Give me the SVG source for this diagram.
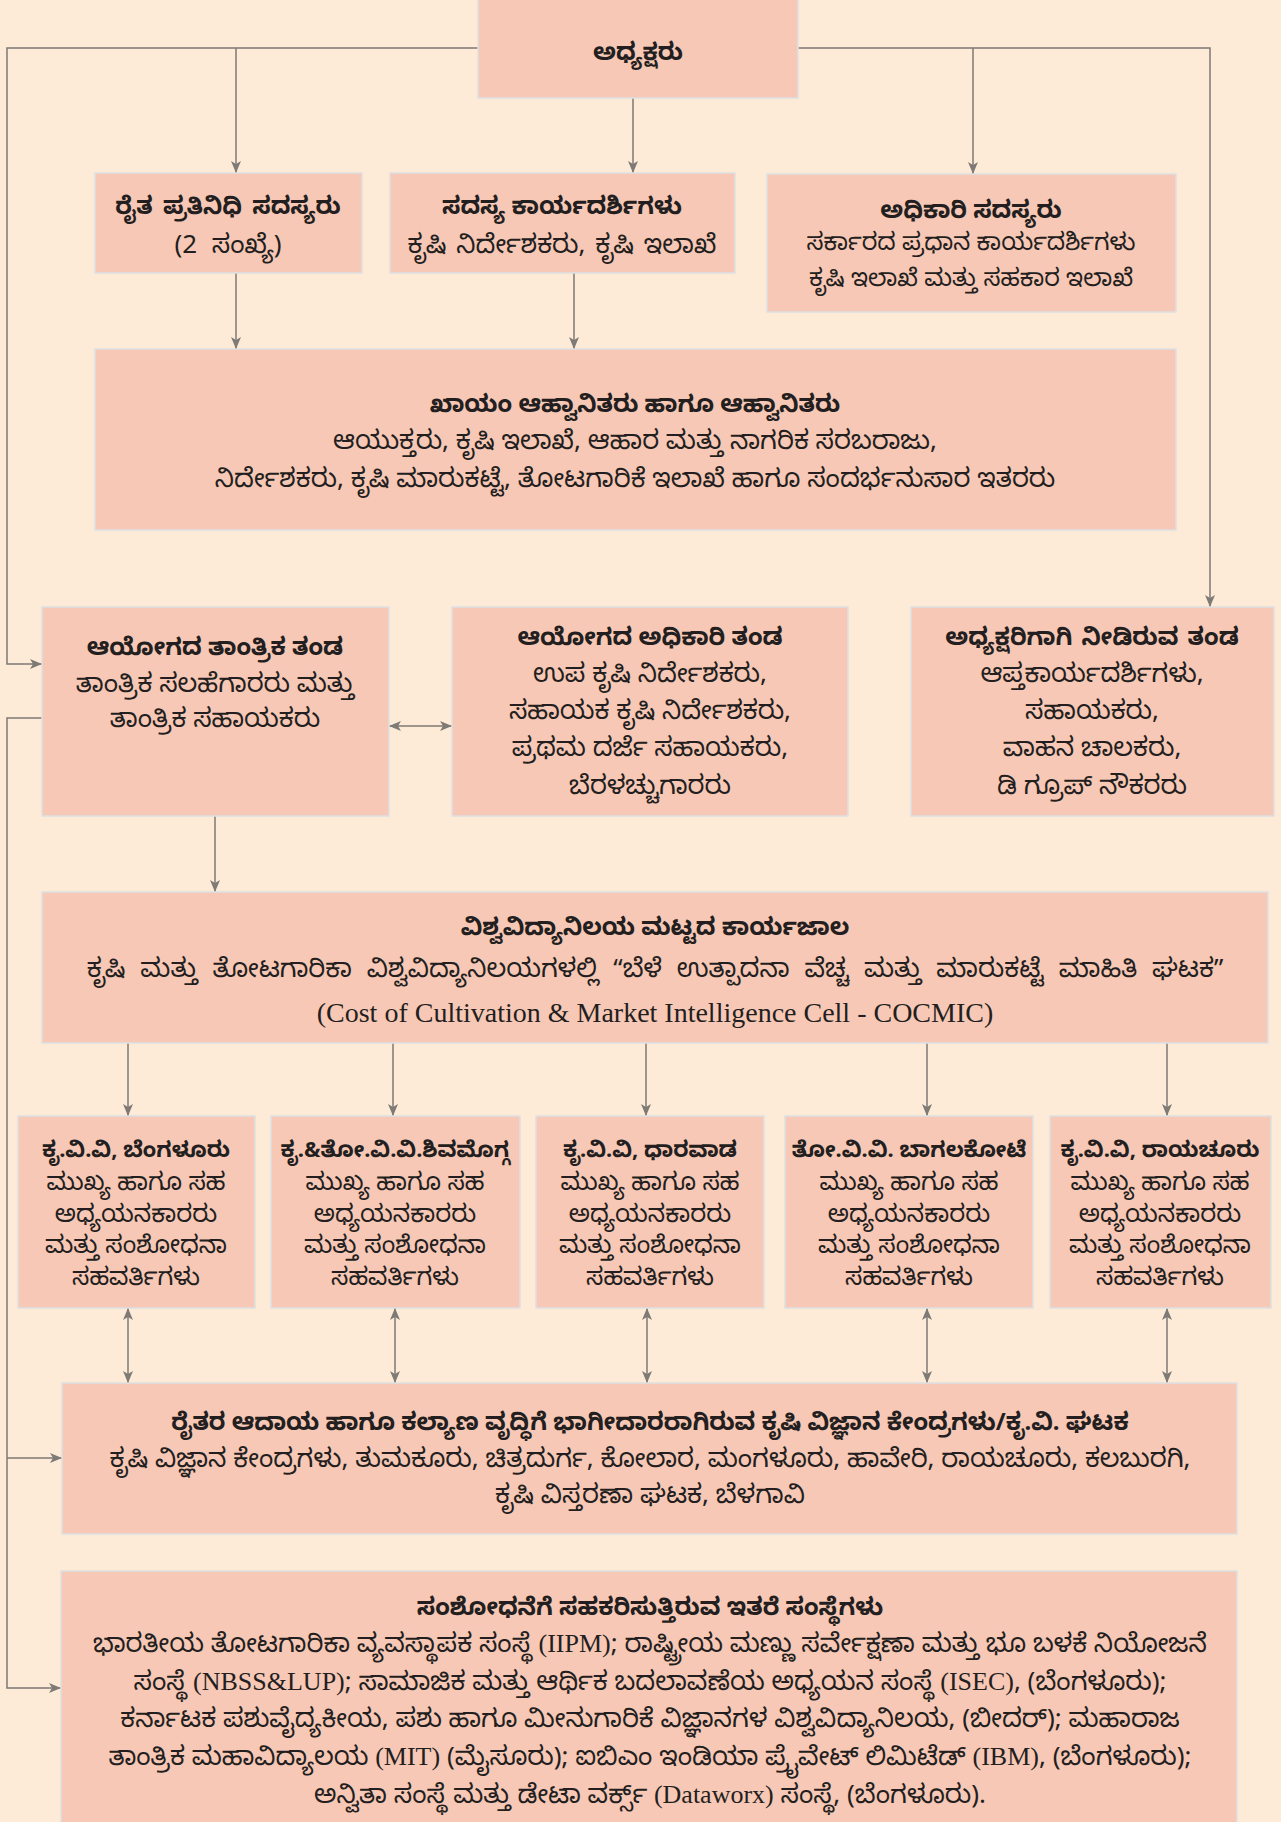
<svg xmlns="http://www.w3.org/2000/svg" width="1281" height="1822" viewBox="0 0 1281 1822">
<defs>
<style>
.bg{fill:#FDEBD7}
.box{fill:#F8C8B6;stroke:#DDE1E4;stroke-width:1.5}
.ln{fill:none;stroke:#7E7A75;stroke-width:1.5}
text{font-family:"Noto Sans","Noto Sans Kannada","Lohit Kannada",sans-serif;fill:#231F20;text-anchor:middle;font-size:26px}
.t{font-weight:bold;font-size:24px}
.m{font-size:24px}
.s{font-size:24.5px}
.st{font-weight:bold;font-size:22px}
.e{font-family:"Liberation Serif",serif;font-size:28px}
.ei{font-family:"Liberation Serif",serif}
</style>
<marker id="ah" viewBox="0 0 12 10" refX="12" refY="5" markerWidth="12" markerHeight="10" markerUnits="userSpaceOnUse" orient="auto-start-reverse">
<path d="M0,0 L12,5 L0,10 L3,5 z" fill="#7E7A75"/>
</marker>
</defs>
<rect class="bg" x="0" y="0" width="1281" height="1822"/>

<g id="connectors">
<path class="ln" d="M478,48 H7 V664 H42" marker-end="url(#ah)"/>
<path class="ln" d="M236,48 V173" marker-end="url(#ah)"/>
<path class="ln" d="M633,98 V173" marker-end="url(#ah)"/>
<path class="ln" d="M798,48 H1210 V607" marker-end="url(#ah)"/>
<path class="ln" d="M973,48 V174" marker-end="url(#ah)"/>
<path class="ln" d="M236,273 V349" marker-end="url(#ah)"/>
<path class="ln" d="M574,273 V349" marker-end="url(#ah)"/>
<path class="ln" d="M389,726 H452" marker-start="url(#ah)" marker-end="url(#ah)"/>
<path class="ln" d="M215,816 V892" marker-end="url(#ah)"/>
<path class="ln" d="M42,718 H7 V1688 H61" marker-end="url(#ah)"/>
<path class="ln" d="M7,1458 H62" marker-end="url(#ah)"/>
<path class="ln" d="M128,1043 V1116" marker-end="url(#ah)"/>
<path class="ln" d="M393,1043 V1116" marker-end="url(#ah)"/>
<path class="ln" d="M646,1043 V1116" marker-end="url(#ah)"/>
<path class="ln" d="M927,1043 V1116" marker-end="url(#ah)"/>
<path class="ln" d="M1167,1043 V1116" marker-end="url(#ah)"/>
<path class="ln" d="M128,1308 V1383" marker-start="url(#ah)" marker-end="url(#ah)"/>
<path class="ln" d="M395,1308 V1383" marker-start="url(#ah)" marker-end="url(#ah)"/>
<path class="ln" d="M647,1308 V1383" marker-start="url(#ah)" marker-end="url(#ah)"/>
<path class="ln" d="M927,1308 V1383" marker-start="url(#ah)" marker-end="url(#ah)"/>
<path class="ln" d="M1167,1308 V1383" marker-start="url(#ah)" marker-end="url(#ah)"/>
</g>

<g id="n-adhyaksharu">
<rect class="box" x="478" y="-2" width="320" height="100"/>
<text class="t" x="638" y="60">ಅಧ್ಯಕ್ಷರು</text>
</g>

<g id="n-raitha">
<rect class="box" x="95" y="173" width="267" height="100"/>
<text class="t" x="228" y="214" word-spacing="4">ರೈತ ಪ್ರತಿನಿಧಿ ಸದಸ್ಯರು</text>
<text x="228" y="253" word-spacing="8">(2 ಸಂಖ್ಯೆ)</text>
</g>

<g id="n-sadasya">
<rect class="box" x="390" y="173" width="345" height="100"/>
<text class="t" x="562" y="214">ಸದಸ್ಯ ಕಾರ್ಯದರ್ಶಿಗಳು</text>
<text x="562" y="253" word-spacing="3">ಕೃಷಿ ನಿರ್ದೇಶಕರು, ಕೃಷಿ ಇಲಾಖೆ</text>
</g>

<g id="n-adhikari-sadasyaru">
<rect class="box" x="767" y="174" width="409" height="138"/>
<text class="t" x="971" y="218">ಅಧಿಕಾರಿ ಸದಸ್ಯರು</text>
<text class="m" x="971" y="250">ಸರ್ಕಾರದ ಪ್ರಧಾನ ಕಾರ್ಯದರ್ಶಿಗಳು</text>
<text class="m" x="971" y="286">ಕೃಷಿ ಇಲಾಖೆ ಮತ್ತು ಸಹಕಾರ ಇಲಾಖೆ</text>
</g>

<g id="n-khaayam">
<rect class="box" x="95" y="349" width="1081" height="181"/>
<text class="t" x="635" y="412">ಖಾಯಂ ಆಹ್ವಾನಿತರು ಹಾಗೂ ಆಹ್ವಾನಿತರು</text>
<text x="635" y="449">ಆಯುಕ್ತರು, ಕೃಷಿ ಇಲಾಖೆ, ಆಹಾರ ಮತ್ತು ನಾಗರಿಕ ಸರಬರಾಜು,</text>
<text x="635" y="487">ನಿರ್ದೇಶಕರು, ಕೃಷಿ ಮಾರುಕಟ್ಟೆ, ತೋಟಗಾರಿಕೆ ಇಲಾಖೆ ಹಾಗೂ ಸಂದರ್ಭನುಸಾರ ಇತರರು</text>
</g>

<g id="n-tantrika">
<rect class="box" x="42" y="607" width="347" height="209"/>
<text class="t" x="215" y="655">ಆಯೋಗದ ತಾಂತ್ರಿಕ ತಂಡ</text>
<text x="215" y="692">ತಾಂತ್ರಿಕ ಸಲಹೆಗಾರರು ಮತ್ತು</text>
<text x="215" y="727">ತಾಂತ್ರಿಕ ಸಹಾಯಕರು</text>
</g>

<g id="n-adhikari-tanda">
<rect class="box" x="452" y="607" width="396" height="209"/>
<text class="t" x="650" y="645">ಆಯೋಗದ ಅಧಿಕಾರಿ ತಂಡ</text>
<text x="650" y="682">ಉಪ ಕೃಷಿ ನಿರ್ದೇಶಕರು,</text>
<text x="650" y="719">ಸಹಾಯಕ ಕೃಷಿ ನಿರ್ದೇಶಕರು,</text>
<text x="650" y="756">ಪ್ರಥಮ ದರ್ಜೆ ಸಹಾಯಕರು,</text>
<text x="650" y="794">ಬೆರಳಚ್ಚುಗಾರರು</text>
</g>

<g id="n-adhyaksharigaagi">
<rect class="box" x="911" y="607" width="363" height="209"/>
<text class="t" x="1092" y="645" word-spacing="3">ಅಧ್ಯಕ್ಷರಿಗಾಗಿ ನೀಡಿರುವ ತಂಡ</text>
<text x="1092" y="682">ಆಪ್ತಕಾರ್ಯದರ್ಶಿಗಳು,</text>
<text x="1092" y="719">ಸಹಾಯಕರು,</text>
<text x="1092" y="756">ವಾಹನ ಚಾಲಕರು,</text>
<text x="1092" y="794">ಡಿ ಗ್ರೂಪ್ ನೌಕರರು</text>
</g>

<g id="n-vishwavidyanilaya">
<rect class="box" x="42" y="892" width="1226" height="151"/>
<text class="t" x="655" y="935">ವಿಶ್ವವಿದ್ಯಾನಿಲಯ ಮಟ್ಟದ ಕಾರ್ಯಜಾಲ</text>
<text x="655" y="977" word-spacing="8">ಕೃಷಿ ಮತ್ತು ತೋಟಗಾರಿಕಾ ವಿಶ್ವವಿದ್ಯಾನಿಲಯಗಳಲ್ಲಿ “ಬೆಳೆ ಉತ್ಪಾದನಾ ವೆಚ್ಚ ಮತ್ತು ಮಾರುಕಟ್ಟೆ ಮಾಹಿತಿ ಘಟಕ”</text>
<text class="e" x="655" y="1022">(Cost of Cultivation &amp; Market Intelligence Cell - COCMIC)</text>
</g>

<g id="n-uas-bengaluru">
<rect class="box" x="18" y="1116" width="237" height="192"/>
<text class="st" x="136" y="1157">ಕೃ.ವಿ.ವಿ, ಬೆಂಗಳೂರು</text>
<text class="s" x="136" y="1190">ಮುಖ್ಯ ಹಾಗೂ ಸಹ</text>
<text class="s" x="136" y="1222">ಅಧ್ಯಯನಕಾರರು</text>
<text class="s" x="136" y="1253">ಮತ್ತು ಸಂಶೋಧನಾ</text>
<text class="s" x="136" y="1285">ಸಹವರ್ತಿಗಳು</text>
</g>

<g id="n-shivamogga">
<rect class="box" x="271" y="1116" width="249" height="192"/>
<text class="st" x="395" y="1157">ಕೃ.&amp;ತೋ.ವಿ.ವಿ.ಶಿವಮೊಗ್ಗ</text>
<text class="s" x="395" y="1190">ಮುಖ್ಯ ಹಾಗೂ ಸಹ</text>
<text class="s" x="395" y="1222">ಅಧ್ಯಯನಕಾರರು</text>
<text class="s" x="395" y="1253">ಮತ್ತು ಸಂಶೋಧನಾ</text>
<text class="s" x="395" y="1285">ಸಹವರ್ತಿಗಳು</text>
</g>

<g id="n-dharwad">
<rect class="box" x="536" y="1116" width="228" height="192"/>
<text class="st" x="650" y="1157">ಕೃ.ವಿ.ವಿ, ಧಾರವಾಡ</text>
<text class="s" x="650" y="1190">ಮುಖ್ಯ ಹಾಗೂ ಸಹ</text>
<text class="s" x="650" y="1222">ಅಧ್ಯಯನಕಾರರು</text>
<text class="s" x="650" y="1253">ಮತ್ತು ಸಂಶೋಧನಾ</text>
<text class="s" x="650" y="1285">ಸಹವರ್ತಿಗಳು</text>
</g>

<g id="n-bagalkot">
<rect class="box" x="785" y="1116" width="248" height="192"/>
<text class="st" x="909" y="1157">ತೋ.ವಿ.ವಿ. ಬಾಗಲಕೋಟೆ</text>
<text class="s" x="909" y="1190">ಮುಖ್ಯ ಹಾಗೂ ಸಹ</text>
<text class="s" x="909" y="1222">ಅಧ್ಯಯನಕಾರರು</text>
<text class="s" x="909" y="1253">ಮತ್ತು ಸಂಶೋಧನಾ</text>
<text class="s" x="909" y="1285">ಸಹವರ್ತಿಗಳು</text>
</g>

<g id="n-raichur">
<rect class="box" x="1050" y="1116" width="221" height="192"/>
<text class="st" x="1160" y="1157">ಕೃ.ವಿ.ವಿ, ರಾಯಚೂರು</text>
<text class="s" x="1160" y="1190">ಮುಖ್ಯ ಹಾಗೂ ಸಹ</text>
<text class="s" x="1160" y="1222">ಅಧ್ಯಯನಕಾರರು</text>
<text class="s" x="1160" y="1253">ಮತ್ತು ಸಂಶೋಧನಾ</text>
<text class="s" x="1160" y="1285">ಸಹವರ್ತಿಗಳು</text>
</g>

<g id="n-kvk">
<rect class="box" x="62" y="1383" width="1175" height="151"/>
<text class="t" x="650" y="1430">ರೈತರ ಆದಾಯ ಹಾಗೂ ಕಲ್ಯಾಣ ವೃದ್ಧಿಗೆ ಭಾಗೀದಾರರಾಗಿರುವ ಕೃಷಿ ವಿಜ್ಞಾನ ಕೇಂದ್ರಗಳು/ಕೃ.ವಿ. ಘಟಕ</text>
<text x="650" y="1467">ಕೃಷಿ ವಿಜ್ಞಾನ ಕೇಂದ್ರಗಳು, ತುಮಕೂರು, ಚಿತ್ರದುರ್ಗ, ಕೋಲಾರ, ಮಂಗಳೂರು, ಹಾವೇರಿ, ರಾಯಚೂರು, ಕಲಬುರಗಿ,</text>
<text x="650" y="1503">ಕೃಷಿ ವಿಸ್ತರಣಾ ಘಟಕ, ಬೆಳಗಾವಿ</text>
</g>

<g id="n-itare">
<rect class="box" x="61" y="1571" width="1176" height="270"/>
<text class="t" x="650" y="1615">ಸಂಶೋಧನೆಗೆ ಸಹಕರಿಸುತ್ತಿರುವ ಇತರೆ ಸಂಸ್ಥೆಗಳು</text>
<text x="650" y="1652">ಭಾರತೀಯ ತೋಟಗಾರಿಕಾ ವ್ಯವಸ್ಥಾಪಕ ಸಂಸ್ಥೆ <tspan class="ei">(IIPM)</tspan>; ರಾಷ್ಟ್ರೀಯ ಮಣ್ಣು ಸರ್ವೇಕ್ಷಣಾ ಮತ್ತು ಭೂ ಬಳಕೆ ನಿಯೋಜನೆ</text>
<text x="650" y="1690">ಸಂಸ್ಥೆ <tspan class="ei">(NBSS&amp;LUP)</tspan>; ಸಾಮಾಜಿಕ ಮತ್ತು ಆರ್ಥಿಕ ಬದಲಾವಣೆಯ ಅಧ್ಯಯನ ಸಂಸ್ಥೆ <tspan class="ei">(ISEC)</tspan>, (ಬೆಂಗಳೂರು);</text>
<text x="650" y="1727">ಕರ್ನಾಟಕ ಪಶುವೈದ್ಯಕೀಯ, ಪಶು ಹಾಗೂ ಮೀನುಗಾರಿಕೆ ವಿಜ್ಞಾನಗಳ ವಿಶ್ವವಿದ್ಯಾನಿಲಯ, (ಬೀದರ್); ಮಹಾರಾಜ</text>
<text x="650" y="1765">ತಾಂತ್ರಿಕ ಮಹಾವಿದ್ಯಾಲಯ <tspan class="ei">(MIT)</tspan> (ಮೈಸೂರು); ಐಬಿಎಂ ಇಂಡಿಯಾ ಪ್ರೈವೇಟ್ ಲಿಮಿಟೆಡ್ <tspan class="ei">(IBM)</tspan>, (ಬೆಂಗಳೂರು);</text>
<text x="650" y="1803">ಅನ್ವಿತಾ ಸಂಸ್ಥೆ ಮತ್ತು ಡೇಟಾ ವರ್ಕ್ಸ್ <tspan class="ei">(Dataworx)</tspan> ಸಂಸ್ಥೆ, (ಬೆಂಗಳೂರು).</text>
</g>
</svg>
